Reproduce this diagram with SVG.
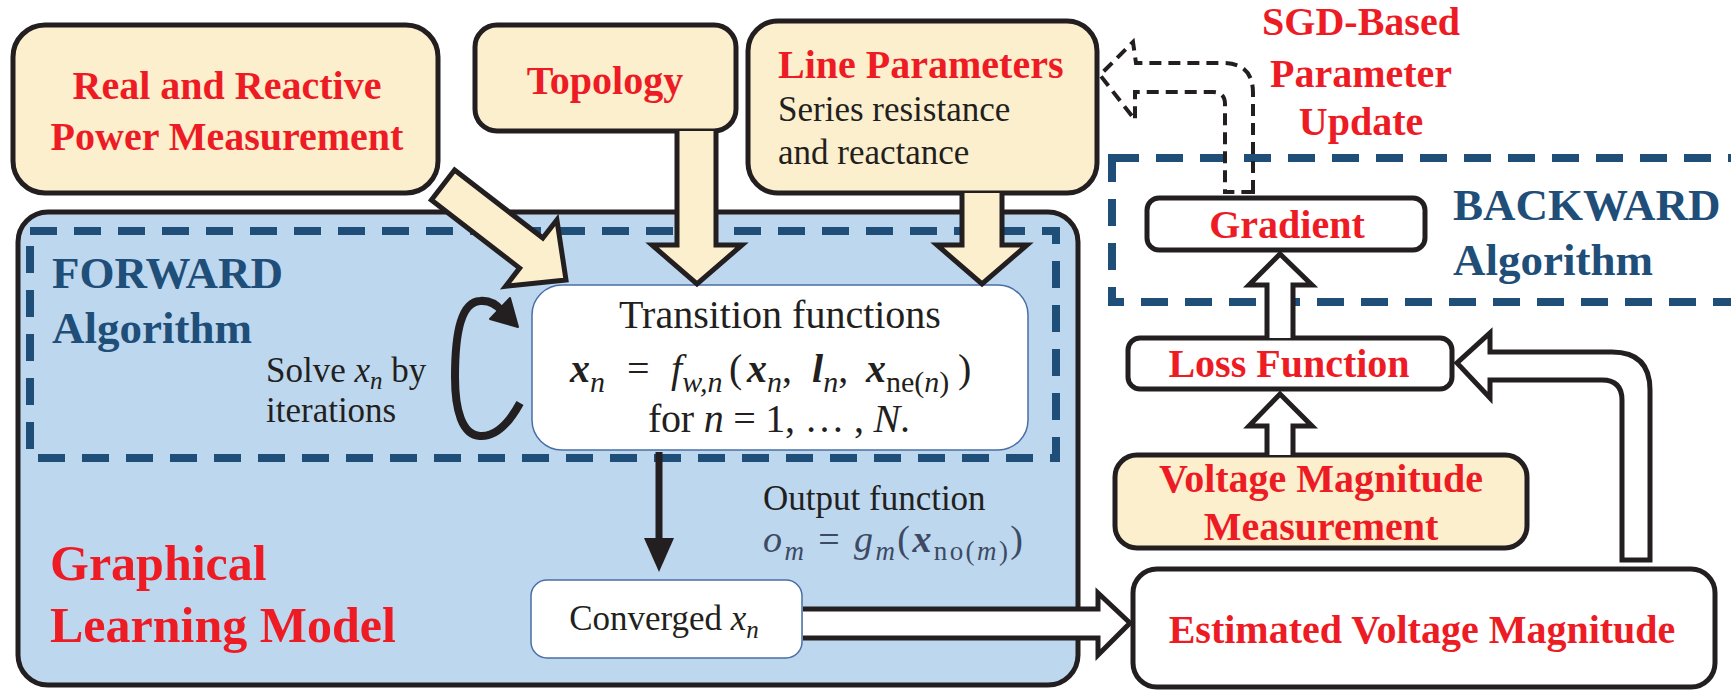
<svg xmlns="http://www.w3.org/2000/svg" width="1731" height="691" viewBox="0 0 1731 691">
<style>
.box{stroke:#231f20;stroke-width:5}
.cream{fill:#fcefcd}
.wht{fill:#ffffff}
.t{font-family:"Liberation Serif",serif;fill:#231f20}
.red{font-family:"Liberation Serif",serif;font-weight:bold;fill:#ed1c24;font-size:40px}
.big{font-size:50px}
.navy{font-family:"Liberation Serif",serif;font-weight:bold;fill:#1f4e79;font-size:45px}
.blk{font-family:"Liberation Serif",serif;fill:#231f20;font-size:35px}
.it{font-style:italic}
.bi{font-style:italic;font-weight:bold}
.sub{font-size:30px}
.dash{fill:none;stroke:#1f4e79;stroke-width:8;stroke-dasharray:27 17}
.harrow{fill:#ffffff;stroke:#231f20;stroke-width:5;stroke-linejoin:miter}
.carrow{fill:#fcefcd;stroke:#231f20;stroke-width:5;stroke-linejoin:miter}
</style>
<rect width="1731" height="691" fill="#ffffff"/>

<g id="glm">
<rect x="18" y="212" width="1060" height="473" rx="30" fill="#bdd7ee" class="box"/>
<text class="red big" x="50" y="580">Graphical</text>
<text class="red big" x="50" y="642">Learning Model</text>
</g>

<g id="forward">
<rect x="30" y="231" width="1026" height="227" class="dash"/>
<text class="navy" x="52" y="288">FORWARD</text>
<text class="navy" x="52" y="343">Algorithm</text>
<text class="blk" x="266" y="382">Solve <tspan class="it">x</tspan><tspan class="it" dy="7" font-size="25">n</tspan><tspan dy="-7"> by</tspan></text>
<text class="blk" x="266" y="422">iterations</text>
</g>

<g id="backward">
<rect x="1112" y="158" width="660" height="144" class="dash"/>
<text class="navy" x="1453" y="220">BACKWARD</text>
<text class="navy" x="1453" y="275">Algorithm</text>
</g>

<g id="real">
<rect x="13" y="25" width="425" height="168" rx="32" class="box cream"/>
<text class="red" x="227" y="99" text-anchor="middle">Real and Reactive</text>
<text class="red" x="227" y="150" text-anchor="middle">Power Measurement</text>
</g>

<g id="topology">
<rect x="475" y="25" width="261" height="106" rx="22" class="box cream"/>
<text class="red" x="605" y="94" text-anchor="middle">Topology</text>
</g>

<g id="lineparams">
<rect x="748" y="21" width="349" height="172" rx="30" class="box cream"/>
<text class="red" x="778" y="78">Line Parameters</text>
<text class="blk" x="778" y="121">Series resistance</text>
<text class="blk" x="778" y="164">and reactance</text>
</g>

<g id="transition">
<rect x="532" y="285" width="496" height="165" rx="30" fill="#ffffff" stroke="#4a6fa5" stroke-width="1.5"/>
<text class="blk" x="780" y="328" text-anchor="middle" style="font-size:40px">Transition functions</text>
<text class="t" font-size="40"><tspan class="bi" x="570" y="382">x</tspan><tspan class="it sub" y="392">n</tspan><tspan x="627" y="382">=</tspan><tspan class="it" x="671" y="382">f</tspan><tspan class="it sub" y="392">w,n</tspan><tspan x="729" y="382">(</tspan><tspan class="bi" x="747" y="382">x</tspan><tspan class="it sub" y="392">n</tspan><tspan y="382">,</tspan><tspan class="bi" x="812" y="382">l</tspan><tspan class="it sub" y="392">n</tspan><tspan y="382">,</tspan><tspan class="bi" x="866" y="382">x</tspan><tspan class="sub" y="392">ne(<tspan class="it">n</tspan>)</tspan><tspan x="958" y="382">)</tspan></text>
<text class="t" x="648" y="432" font-size="40" textLength="262" lengthAdjust="spacing">for <tspan class="it">n</tspan> = 1, … , <tspan class="it">N</tspan>.</text>
</g>

<g id="output">
<text class="blk" x="763" y="510">Output function</text>
<text class="t" x="763" y="552" font-size="38" style="fill:#3d4a63" textLength="260" lengthAdjust="spacing"><tspan class="it">o</tspan><tspan class="it" dy="8" font-size="27">m</tspan><tspan dy="-8"> = </tspan><tspan class="it">g</tspan><tspan class="it" dy="8" font-size="27">m</tspan><tspan dy="-8">(</tspan><tspan class="bi">x</tspan><tspan dy="8" font-size="27">no(<tspan class="it">m</tspan>)</tspan><tspan dy="-8">)</tspan></text>
</g>

<g id="converged">
<rect x="531" y="580" width="271" height="78" rx="16" fill="#ffffff" stroke="#4a6fa5" stroke-width="1.5"/>
<text class="blk" x="664" y="630" text-anchor="middle">Converged <tspan class="it">x</tspan><tspan class="it" dy="8" font-size="25">n</tspan></text>
</g>

<g id="gradient">
<rect x="1147" y="198" width="278" height="52" rx="12" class="box wht"/>
<text class="red" x="1287" y="238" text-anchor="middle">Gradient</text>
</g>

<g id="sgd">
<text class="red" x="1361" y="35" text-anchor="middle">SGD-Based</text>
<text class="red" x="1361" y="87" text-anchor="middle">Parameter</text>
<text class="red" x="1361" y="135" text-anchor="middle">Update</text>
</g>

<g id="loss">
<rect x="1128" y="338" width="324" height="51" rx="12" class="box wht"/>
<text class="red" x="1289" y="377" text-anchor="middle">Loss Function</text>
</g>

<g id="vmm">
<rect x="1115" y="455" width="412" height="93" rx="22" class="box cream"/>
<text class="red" x="1321" y="492" text-anchor="middle">Voltage Magnitude</text>
<text class="red" x="1321" y="540" text-anchor="middle">Measurement</text>
</g>

<g id="evm">
<rect x="1133" y="569" width="582" height="118" rx="24" class="box wht"/>
<text class="red" x="1422" y="643" text-anchor="middle">Estimated Voltage Magnitude</text>
</g>

<g id="connectors">
<path class="carrow" d="M454.6 170 L542.8 238.1 L556.9 219.9 L566 280 L505.5 286.3 L519.6 268.1 L431.4 200 Z"/>
<path class="carrow" d="M677 131 L677 245 L652 245 L697 284 L742 245 L716 245 L716 131"/>
<path class="carrow" d="M962 193 L962 245 L937 245 L982 284 L1027 245 L1002 245 L1002 193"/>
<path d="M520 403 C508 425 495 437 480 436 C462 435 455 410 455 377 C455 330 462 302 480 301 C490 300 497 305 502 311" fill="none" stroke="#231f20" stroke-width="8"/>
<path d="M510 298 L518 327 L490 319 Z" fill="#231f20" stroke="#231f20" stroke-width="2" stroke-linejoin="round"/>
<line x1="659" y1="452" x2="659" y2="540" stroke="#231f20" stroke-width="7"/>
<path d="M644 538 L674 538 L659 572 Z" fill="#231f20"/>
<path class="harrow" d="M803 609 L1098 609 L1098 593 L1130 623 L1098 655 L1098 638 L803 638"/>
<path class="harrow" d="M1267 338 L1267 285 L1249 285 L1280 254 L1312 285 L1293 285 L1293 338"/>
<path class="harrow" d="M1267 455 L1267 426 L1249 426 L1280 394 L1312 426 L1293 426 L1293 455"/>
<path class="harrow" d="M1622 560 L1622 400 Q1622 380 1602 380 L1490 380 L1490 398 L1457 363 L1490 333 L1490 352 L1612 352 Q1650 352 1650 390 L1650 560 Z"/>
<path d="M1253 192 L1253 93 Q1253 63 1223 63 L1136 63 L1133 42 L1100 75 L1135 120 L1135 92 L1213 92 Q1225 92 1225 104 L1225 192 Z" fill="none" stroke="#231f20" stroke-width="4" stroke-dasharray="12 7"/>
</g>
</svg>
